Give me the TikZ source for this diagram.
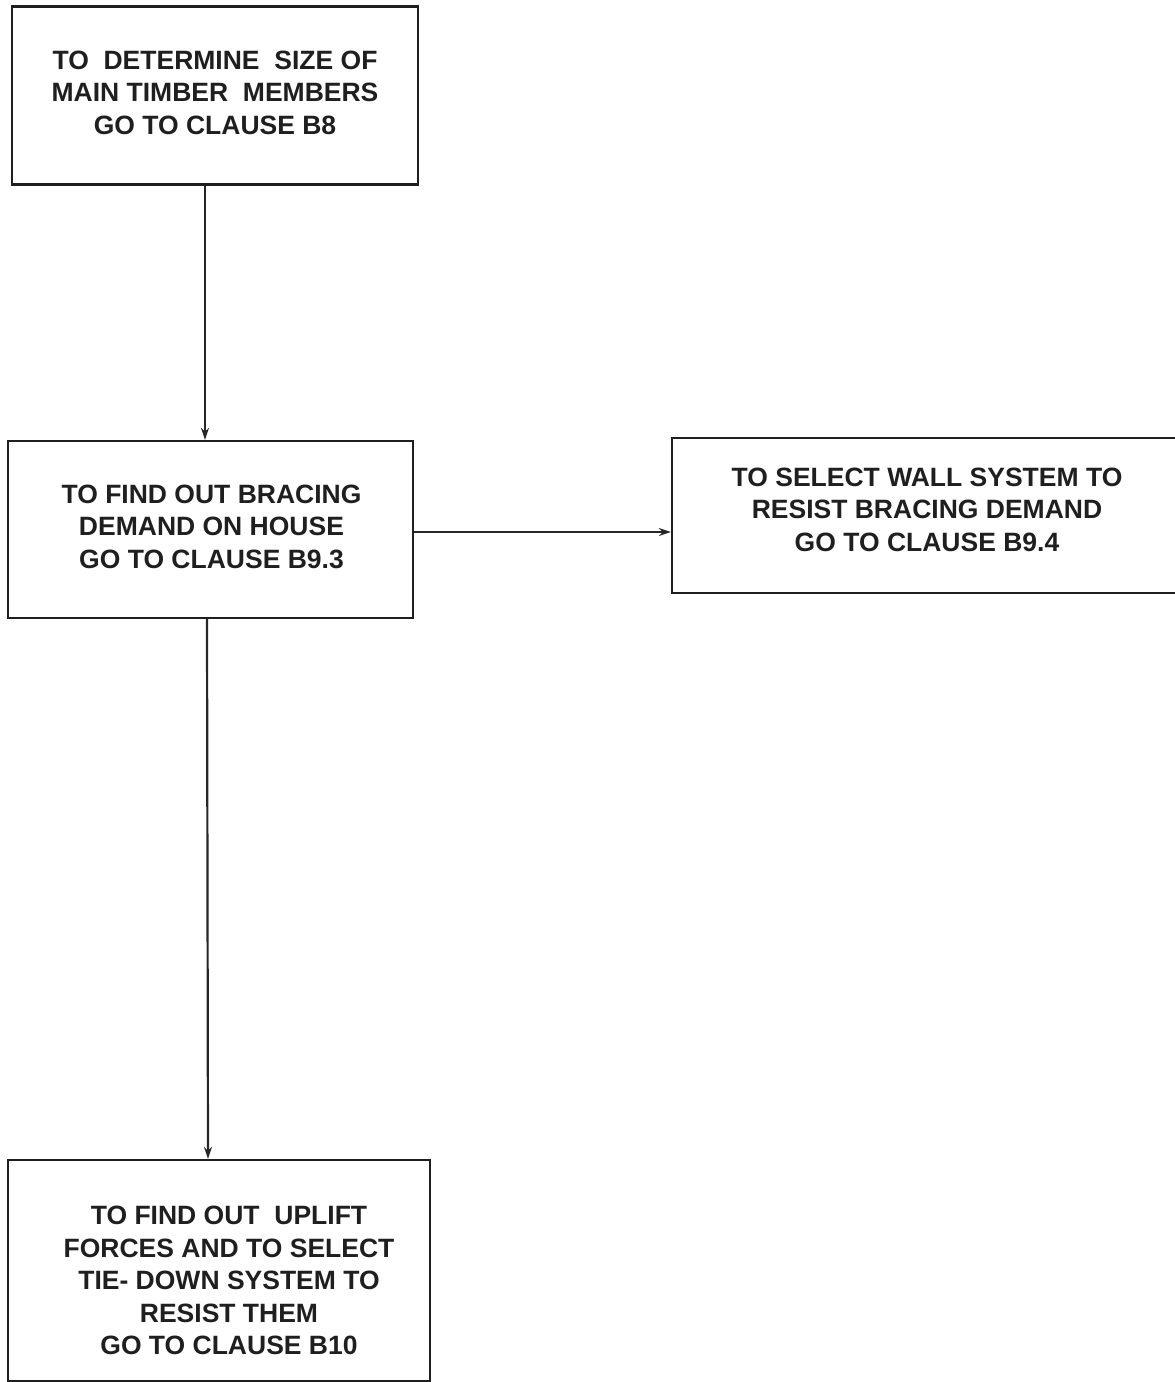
\documentclass[tikz,border=0pt]{standalone}
\usepackage{fontspec}
\setmainfont{Liberation Sans}
\usetikzlibrary{arrows.meta}

\tikzset{
  clausebox/.style={draw=black!88, line width=2.3pt, inner sep=0pt},
  clausetext/.style={align=center, inner sep=0pt, text=black!88,
    font=\fontsize{26.5}{32.5}\selectfont\bfseries},
  flowarrow/.style={draw=black!85, line width=2.2pt, -{Stealth[length=12pt,width=8pt]}}
}

\begin{document}
\begin{tikzpicture}[x=1pt,y=1pt,yscale=-1,xscale=1]
\useasboundingbox (0,0) rectangle (1175,1382);

%Box: size of main timber members
\node [clausebox, minimum width=406, minimum height=178] (sizebox) at (215,95.5) {};
% Text Node
\node [clausetext] (sizetext) at ([shift={(0,-3)}]sizebox.center)
  {TO\ \ DETERMINE\ \ SIZE OF\\MAIN TIMBER\ \ MEMBERS\\GO TO CLAUSE B8};
%Box: bracing demand
\node [clausebox, minimum width=405, minimum height=177] (bracingbox) at (210.5,529.5) {};
% Text Node
\node [clausetext] (bracingtext) at ([shift={(1,-3)}]bracingbox.center)
  {TO FIND OUT BRACING\\DEMAND ON HOUSE\\GO TO CLAUSE B9.3};
%Box: wall system (runs off the right edge)
\node [clausebox, minimum width=512, minimum height=155] (wallbox) at (928,515.5) {};
% Text Node
\node [clausetext] (walltext) at ([shift={(-1,-6)}]wallbox.center)
  {TO SELECT WALL SYSTEM TO\\RESIST BRACING DEMAND\\GO TO CLAUSE B9.4};
%Box: uplift and tie-down (runs off the bottom edge)
\node [clausebox, minimum width=422, minimum height=221] (upliftbox) at (219,1270.5) {};
% Text Node
\node [clausetext] (uplifttext) at ([shift={(10,10)}]upliftbox.center)
  {TO FIND OUT\ \ UPLIFT\\FORCES AND TO SELECT\\TIE- DOWN SYSTEM TO\\RESIST THEM\\GO TO CLAUSE B10};

% Arrows
\draw [flowarrow] ([xshift=-10pt]sizebox.south) -- ([xshift=-5.5pt]bracingbox.north);
\draw [flowarrow] ([yshift=2.5pt]bracingbox.east) -- ([yshift=2.5pt]bracingbox.east -| wallbox.west);
\draw [flowarrow] ([xshift=-3.5pt]bracingbox.south) -- ([xshift=-11pt]upliftbox.north);
\end{tikzpicture}
\end{document}
